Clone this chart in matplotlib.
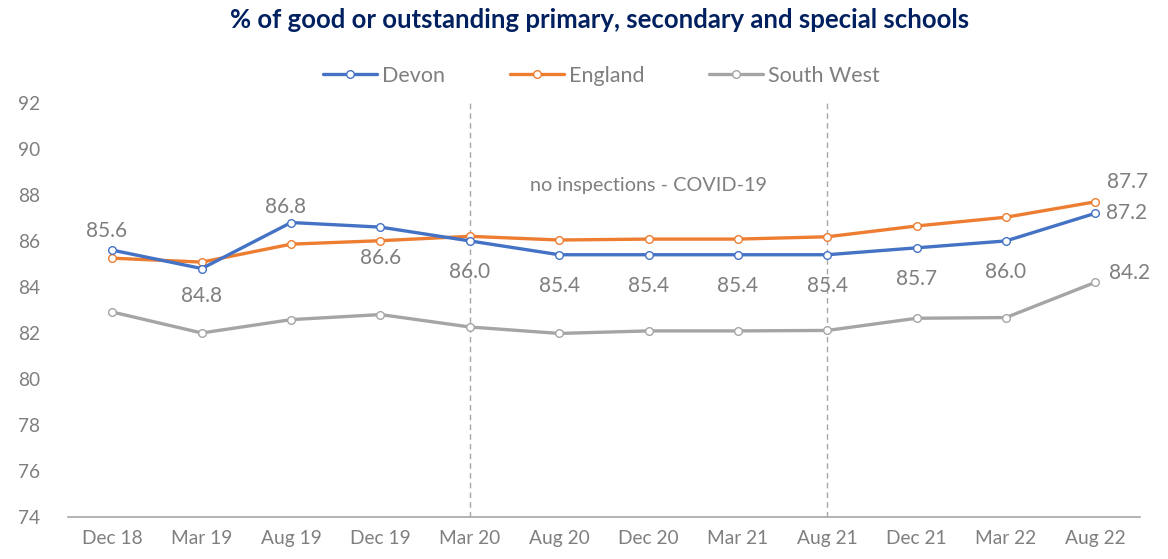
import matplotlib.pyplot as plt
import numpy as np

plt.rcParams['font.family'] = ['Lato', 'DejaVu Sans']

periods = ['Dec 18', 'Mar 19', 'Aug 19', 'Dec 19', 'Mar 20', 'Aug 20',
           'Dec 20', 'Mar 21', 'Aug 21', 'Dec 21', 'Mar 22', 'Aug 22']
devon = [85.6, 84.8, 86.8, 86.6, 86.0, 85.4, 85.4, 85.4, 85.4, 85.7, 86.0, 87.2]
england = [85.25, 85.08, 85.86, 86.01, 86.2, 86.04, 86.08, 86.08, 86.18, 86.65, 87.03, 87.7]
south_west = [82.91, 82.0, 82.58, 82.8, 82.26, 81.98, 82.09, 82.09, 82.11, 82.64, 82.67, 84.2]
covid_start, covid_end = 'Mar 20', 'Aug 21'

c_devon = '#4472C4'
c_eng = '#ED7D31'
c_sw = '#A5A5A5'
txt = '#7F7F7F'

fig = plt.figure(figsize=(11.68, 5.59), dpi=100)
ax = fig.add_axes([0.058, 0.075, 0.918, 0.741])

x = np.arange(len(periods))
style = dict(lw=2.4, marker='o', markersize=5.5, markerfacecolor='white',
             markeredgewidth=1.0, solid_capstyle='round')
ax.plot(x, devon, color=c_devon, label='Devon', zorder=4, **style)
ax.plot(x, england, color=c_eng, label='England', zorder=3, **style)
ax.plot(x, south_west, color=c_sw, label='South West', zorder=2, **style)

# covid period lines
for p in (covid_start, covid_end):
    ax.axvline(periods.index(p), color='#A6A6A6', lw=1, ls=(0, (4, 3)), zorder=1)
ax.text((periods.index(covid_start) + periods.index(covid_end)) / 2, 88.42,
        'no inspections - COVID-19', ha='center', va='center', fontsize=14.3, color=txt)

# Devon data labels
lab_fs = 15
above = {0: 13.5, 2: 11.5}
for i, v in enumerate(devon):
    if i == len(devon) - 1:
        ax.annotate(f'{v:.1f}', (i, v), xytext=(8, 0), textcoords='offset points',
                    ha='left', va='center', fontsize=lab_fs, color=txt)
    elif i in above:
        ax.annotate(f'{v:.1f}', (i, v), xytext=(-4, above[i]), textcoords='offset points',
                    ha='center', va='center', fontsize=lab_fs, color=txt)
    else:
        off = -19.5 if i == 1 else -22.5
        ax.annotate(f'{v:.1f}', (i, v), xytext=(0, off), textcoords='offset points',
                    ha='center', va='center', fontsize=lab_fs, color=txt)

ax.annotate(f'{england[-1]:.1f}', (len(x) - 1, england[-1]), xytext=(23, 14),
            textcoords='offset points', ha='center', va='center', fontsize=lab_fs, color=txt)
ax.annotate(f'{south_west[-1]:.1f}', (len(x) - 1, south_west[-1]), xytext=(25, 7),
            textcoords='offset points', ha='center', va='center', fontsize=lab_fs, color=txt)

ax.set_xlim(-0.5, len(x) - 0.5)
ax.set_ylim(74, 92)
ax.set_yticks(np.arange(74, 93, 2))
ax.set_xticks(x)
ax.set_xticklabels(periods)
ax.tick_params(axis='both', length=0, labelsize=13.8, labelcolor=txt)
ax.tick_params(axis='y', pad=20)
ax.tick_params(axis='x', pad=9)
for s in ('top', 'right', 'left'):
    ax.spines[s].set_visible(False)
ax.spines['bottom'].set_color('#A6A6A6')
ax.spines['bottom'].set_linewidth(1.2)

fig.suptitle('% of good or outstanding primary, secondary and special schools',
             x=0.513, y=0.985, fontsize=18.5, fontweight='bold', color='#002060')
fig.legend(loc='center', bbox_to_anchor=(0.515, 0.864), ncol=3, frameon=False,
           fontsize=15.5, labelcolor=txt, handlelength=2.5, columnspacing=3.0,
           handletextpad=0.25, numpoints=1)

fig.savefig('out.png', dpi=100)
